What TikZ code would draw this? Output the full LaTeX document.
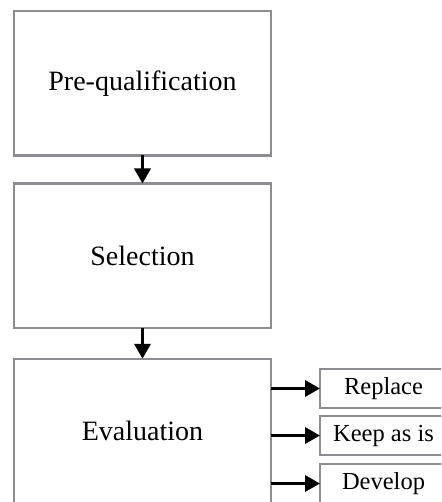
\documentclass[tikz,border=0pt]{standalone}
\usepackage{fontspec}
\setmainfont{Liberation Serif}
\usetikzlibrary{arrows.meta}
\definecolor{boxgray}{RGB}{140,141,145}
\tikzset{
  x=1pt, y=-1pt,
  bigbox/.style={draw=boxgray, line width=2.5pt, outer sep=0pt, inner sep=0pt,
    minimum width=257pt, minimum height=144.5pt, font=\fontsize{28}{31}\selectfont},
  smallbox/.style={draw=boxgray, line width=2.5pt, outer sep=0pt, inner sep=0pt,
    minimum width=127pt, minimum height=39pt, font=\fontsize{24.5}{27}\selectfont},
  flow/.style={line width=3.5pt, -{Triangle[length=15pt, width=16pt]}}
}
\begin{document}
\begin{tikzpicture}
  \useasboundingbox (0,0) rectangle (441,502);
  \clip (0,0) rectangle (441,502);

  % main stages
  \node[bigbox] (pre) at (142.5,83.25) {Pre-qualification};
  \node[bigbox] (sel) at (142.5,255.75) {Selection};
  \node[bigbox] (eva) at (142.5,431) {Evaluation};

  % evaluation outcomes
  \node[smallbox] (rep) at (383.5,388.5) {Replace};
  \node[smallbox] (kee) at (383.5,435.5) {Keep as is};
  \node[smallbox] (dev) at (383.5,483.5) {Develop};

  % connectors
  \draw[flow] (pre.south) -- (sel.north);
  \draw[flow] (sel.south) -- (eva.north);
  \draw[flow] (eva.east |- rep.west) -- (rep.west);
  \draw[flow] (eva.east |- kee.west) -- (kee.west);
  \draw[flow] (eva.east |- dev.west) -- (dev.west);
\end{tikzpicture}
\end{document}
